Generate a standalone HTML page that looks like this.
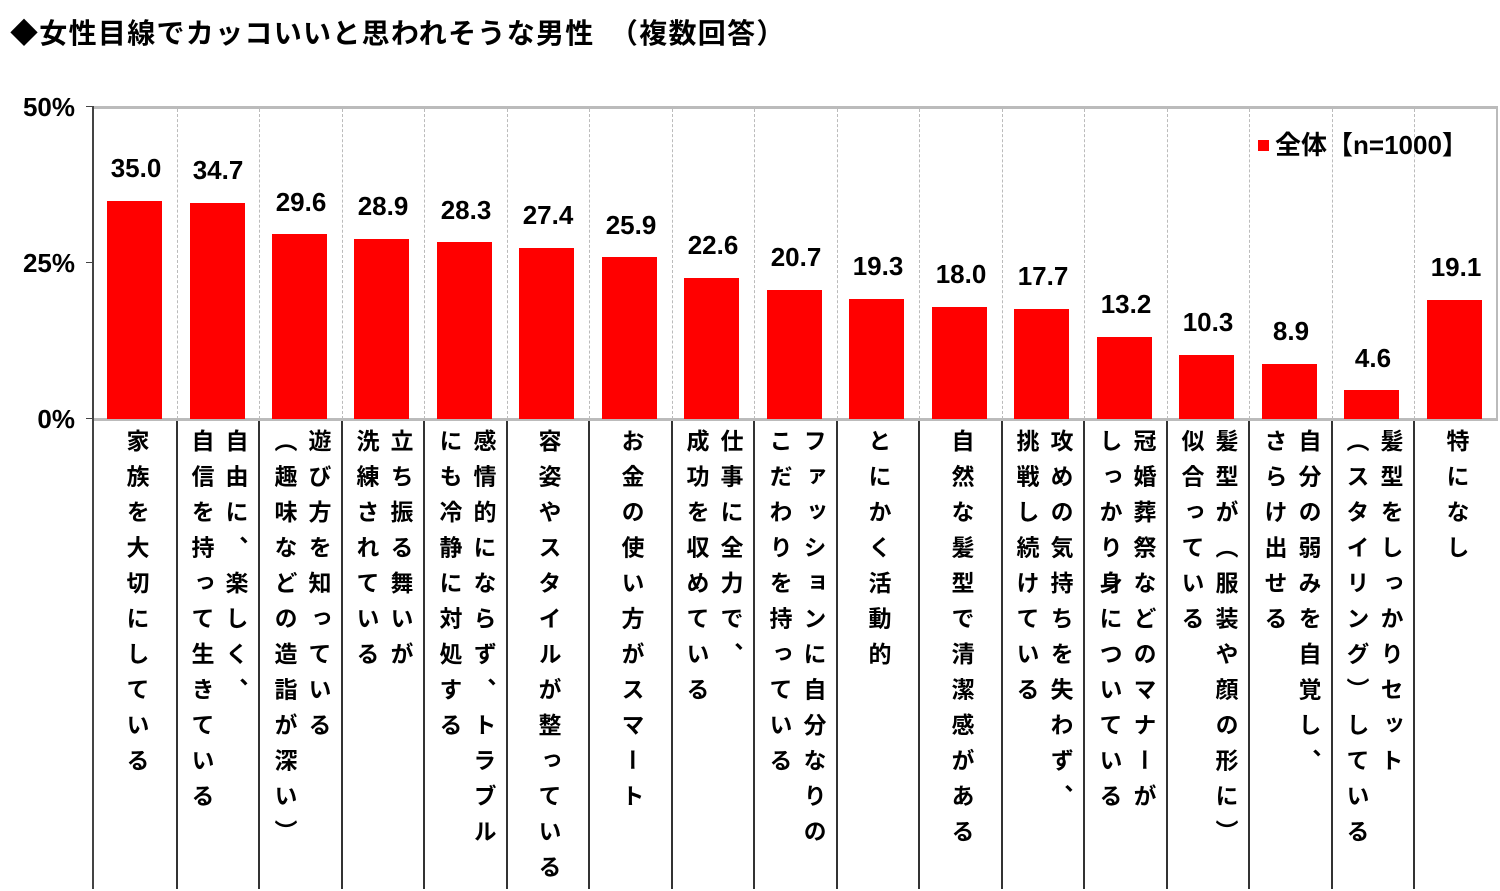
<!DOCTYPE html>
<html><head><meta charset="utf-8"><style>
body{margin:0;width:1500px;height:889px;background:#fff;position:relative;overflow:hidden;font-family:"Liberation Sans","Noto Sans CJK JP",sans-serif;font-weight:bold;color:#000}
.a{position:absolute}
.bar{position:absolute;background:#f00;width:55px}
.v{position:absolute;width:82px;text-align:center;font-size:26px;height:30px;line-height:30px}
.g{position:absolute;top:109px;height:310px;border-left:1px dashed #bbb}
.s{position:absolute;top:421px;height:468px;width:2px;background:#333}
.l{position:absolute;top:429px;width:82px;height:460px;display:flex;justify-content:center}
.l div{writing-mode:vertical-rl;font-size:23px;line-height:34px;letter-spacing:12.5px;white-space:nowrap}
.y{position:absolute;left:0;width:75px;text-align:right;font-size:26px}
</style></head><body>
<div class="a" style="left:10px;top:16px;font-size:28px;line-height:36px;letter-spacing:1.3px">◆女性目線でカッコいいと思われそうな男性　（複数回答）</div>
<div class="y" style="top:92px">50%</div>
<div class="y" style="top:248px">25%</div>
<div class="y" style="top:404px">0%</div>
<div class="a" style="left:93px;top:106px;width:1405px;height:3px;background:#bbb"></div>
<div class="a" style="left:93px;top:418px;width:1405px;height:3px;background:#bbb"></div>
<div class="a" style="left:1496px;top:106px;width:2px;height:315px;background:#bbb"></div>
<div class="a" style="left:92px;top:106px;width:2px;height:783px;background:#444"></div>
<div class="a" style="left:86px;top:262px;width:7px;height:1px;background:#444"></div>
<div class="a" style="left:86px;top:106px;width:7px;height:1px;background:#444"></div>
<div class="a" style="left:86px;top:418px;width:7px;height:1px;background:#444"></div>
<div class="g" style="left:177px"></div><div class="g" style="left:259px"></div><div class="g" style="left:342px"></div><div class="g" style="left:424px"></div><div class="g" style="left:507px"></div><div class="g" style="left:589px"></div><div class="g" style="left:672px"></div><div class="g" style="left:754px"></div><div class="g" style="left:837px"></div><div class="g" style="left:919px"></div><div class="g" style="left:1002px"></div><div class="g" style="left:1084px"></div><div class="g" style="left:1167px"></div><div class="g" style="left:1249px"></div><div class="g" style="left:1332px"></div><div class="g" style="left:1414px"></div>
<div class="s" style="left:176px"></div><div class="s" style="left:258px"></div><div class="s" style="left:341px"></div><div class="s" style="left:423px"></div><div class="s" style="left:506px"></div><div class="s" style="left:588px"></div><div class="s" style="left:671px"></div><div class="s" style="left:753px"></div><div class="s" style="left:836px"></div><div class="s" style="left:918px"></div><div class="s" style="left:1001px"></div><div class="s" style="left:1083px"></div><div class="s" style="left:1166px"></div><div class="s" style="left:1248px"></div><div class="s" style="left:1331px"></div><div class="s" style="left:1413px"></div>

<div class="bar" style="left:107px;top:201px;height:218px"></div><div class="v" style="left:95px;top:153px">35.0</div>
<div class="bar" style="left:190px;top:203px;height:216px"></div><div class="v" style="left:177px;top:155px">34.7</div>
<div class="bar" style="left:272px;top:234px;height:185px"></div><div class="v" style="left:260px;top:187px">29.6</div>
<div class="bar" style="left:354px;top:239px;height:180px"></div><div class="v" style="left:342px;top:191px">28.9</div>
<div class="bar" style="left:437px;top:242px;height:177px"></div><div class="v" style="left:425px;top:195px">28.3</div>
<div class="bar" style="left:519px;top:248px;height:171px"></div><div class="v" style="left:507px;top:200px">27.4</div>
<div class="bar" style="left:602px;top:257px;height:162px"></div><div class="v" style="left:590px;top:210px">25.9</div>
<div class="bar" style="left:684px;top:278px;height:141px"></div><div class="v" style="left:672px;top:230px">22.6</div>
<div class="bar" style="left:767px;top:290px;height:129px"></div><div class="v" style="left:755px;top:242px">20.7</div>
<div class="bar" style="left:849px;top:299px;height:120px"></div><div class="v" style="left:837px;top:251px">19.3</div>
<div class="bar" style="left:932px;top:307px;height:112px"></div><div class="v" style="left:920px;top:259px">18.0</div>
<div class="bar" style="left:1014px;top:309px;height:110px"></div><div class="v" style="left:1002px;top:261px">17.7</div>
<div class="bar" style="left:1097px;top:337px;height:82px"></div><div class="v" style="left:1085px;top:289px">13.2</div>
<div class="bar" style="left:1179px;top:355px;height:64px"></div><div class="v" style="left:1167px;top:307px">10.3</div>
<div class="bar" style="left:1262px;top:364px;height:55px"></div><div class="v" style="left:1250px;top:316px">8.9</div>
<div class="bar" style="left:1344px;top:390px;height:29px"></div><div class="v" style="left:1332px;top:343px">4.6</div>
<div class="bar" style="left:1427px;top:300px;height:119px"></div><div class="v" style="left:1415px;top:252px">19.1</div>

<div class="a" style="left:1258px;top:140px;width:11px;height:11px;background:#f00"></div>
<div class="a" style="left:1275px;top:130px;font-size:26px;line-height:30px">全体【n=1000】</div>

<div class="l" style="left:95px"><div>家族を大切にしている</div></div>
<div class="l" style="left:177px"><div>自由に、楽しく、<br>自信を持って生きている</div></div>
<div class="l" style="left:260px"><div>遊び方を知っている<br>（趣味などの造詣が深い）</div></div>
<div class="l" style="left:342px"><div>立ち振る舞いが<br>洗練されている</div></div>
<div class="l" style="left:425px"><div>感情的にならず、トラブル<br>にも冷静に対処する</div></div>
<div class="l" style="left:507px"><div>容姿やスタイルが整っている</div></div>
<div class="l" style="left:590px"><div>お金の使い方がスマート</div></div>
<div class="l" style="left:672px"><div>仕事に全力で、<br>成功を収めている</div></div>
<div class="l" style="left:755px"><div>ファッションに自分なりの<br>こだわりを持っている</div></div>
<div class="l" style="left:837px"><div>とにかく活動的</div></div>
<div class="l" style="left:920px"><div>自然な髪型で清潔感がある</div></div>
<div class="l" style="left:1002px"><div>攻めの気持ちを失わず、<br>挑戦し続けている</div></div>
<div class="l" style="left:1085px"><div>冠婚葬祭などのマナーが<br>しっかり身についている</div></div>
<div class="l" style="left:1167px"><div>髪型が（服装や顔の形に）<br>似合っている</div></div>
<div class="l" style="left:1250px"><div>自分の弱みを自覚し、<br>さらけ出せる</div></div>
<div class="l" style="left:1332px"><div>髪型をしっかりセット<br>（スタイリング）している</div></div>
<div class="l" style="left:1415px"><div>特になし</div></div>
</body></html>
